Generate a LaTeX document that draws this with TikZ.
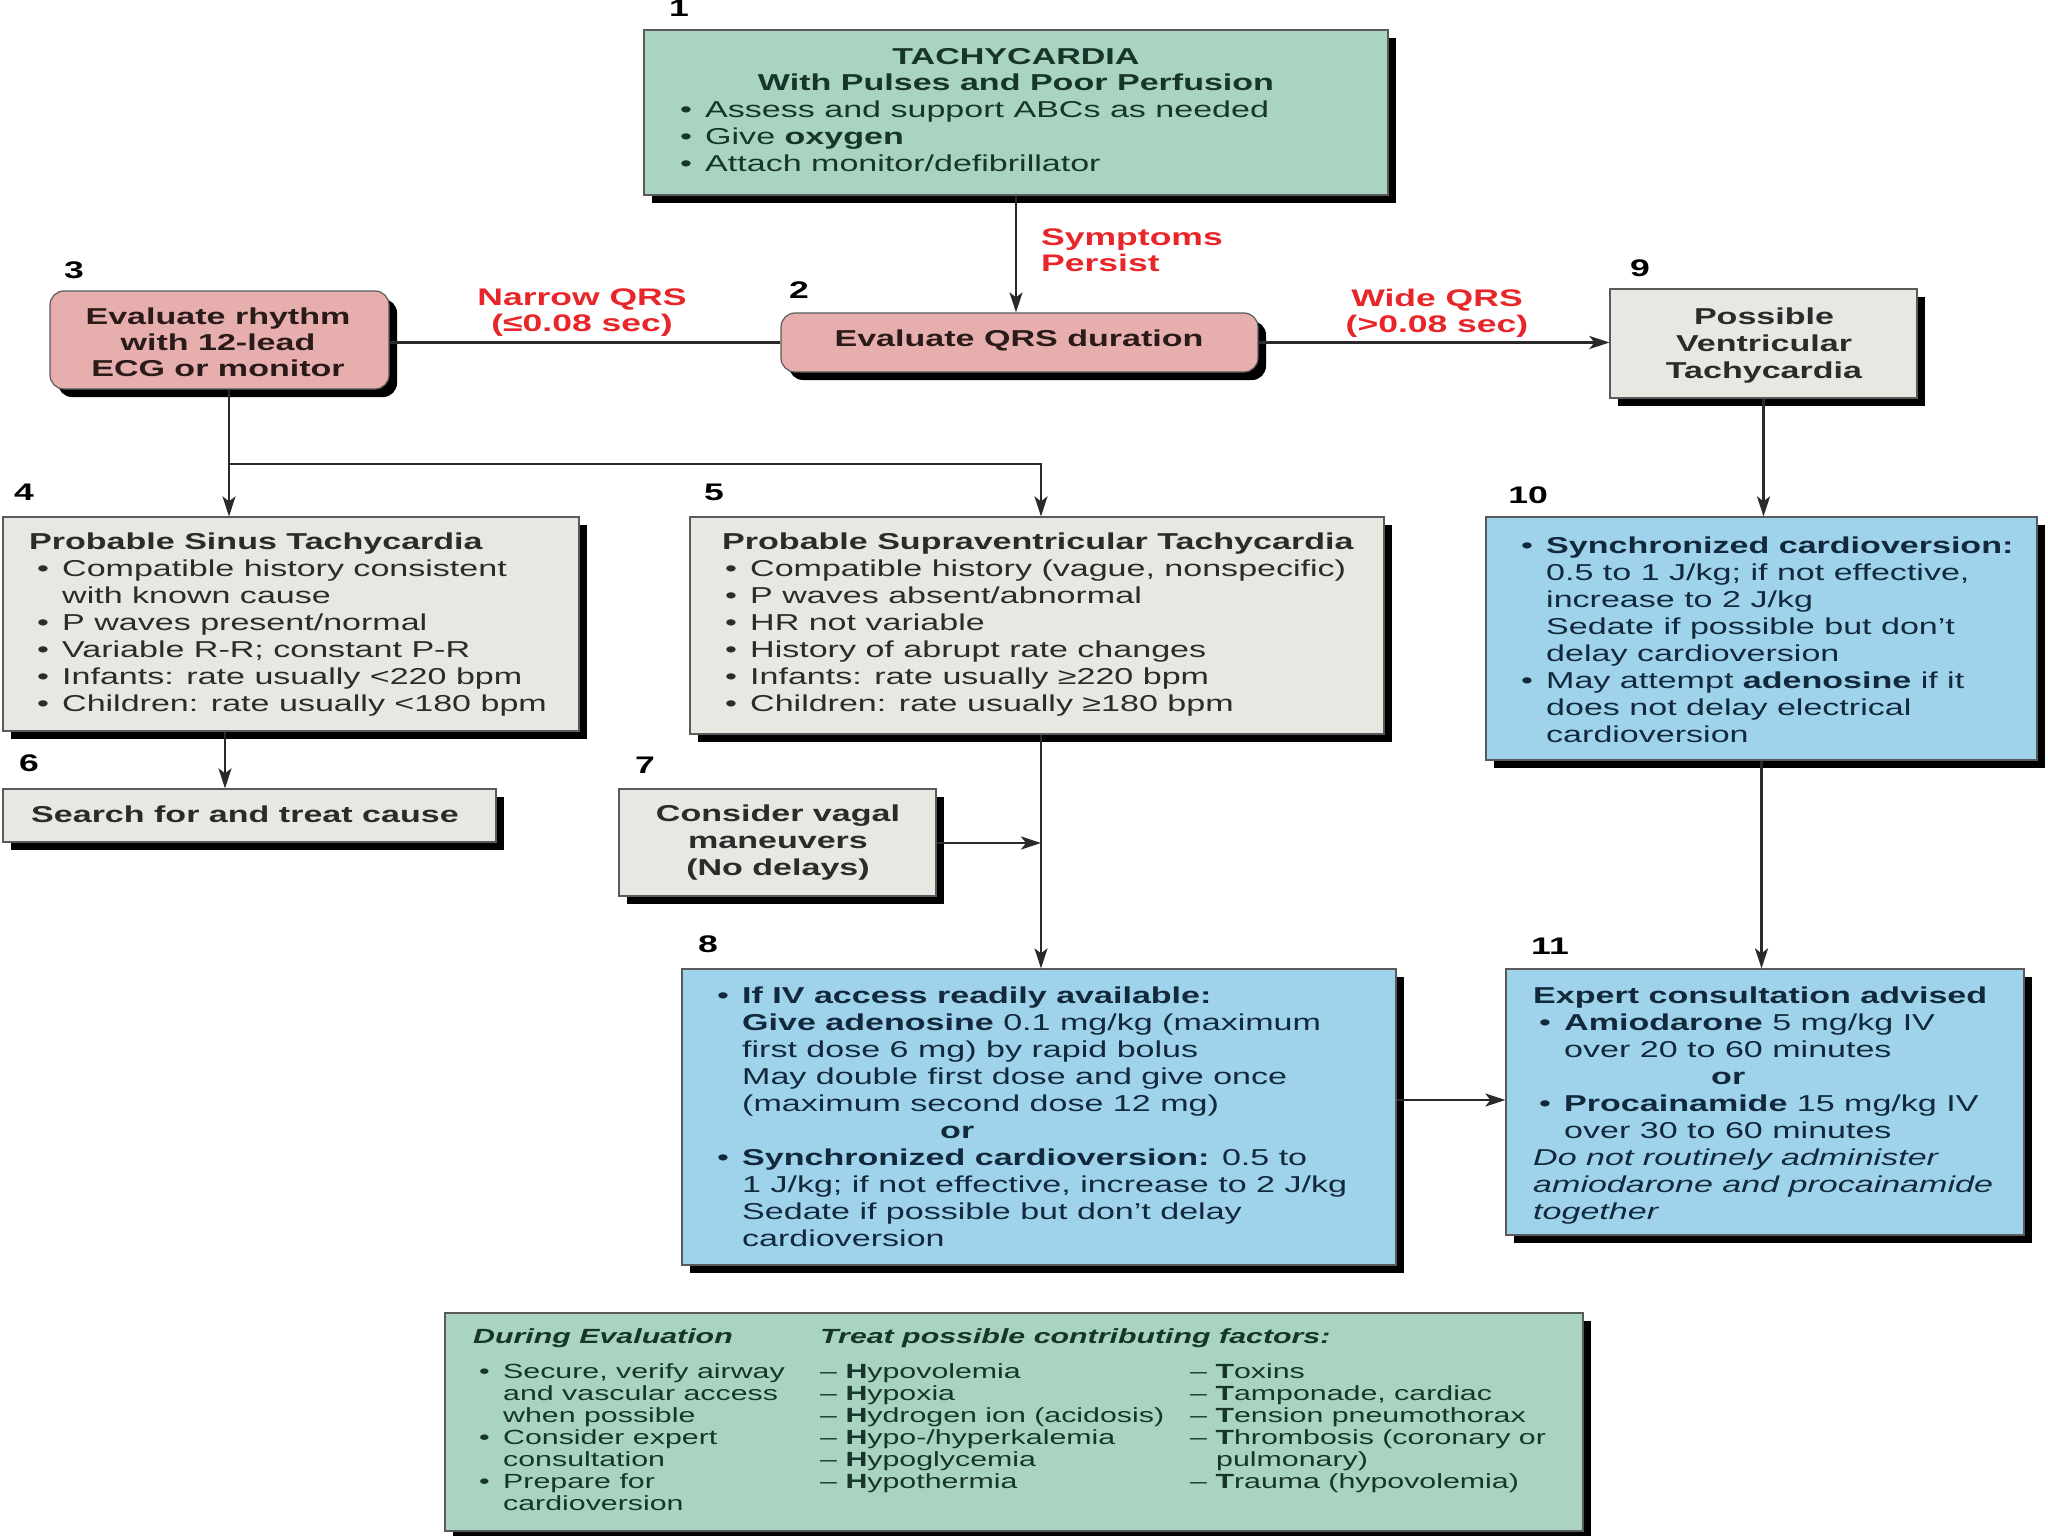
\documentclass[tikz,border=0pt]{standalone}
\usepackage{fontspec}
\setmainfont{Liberation Sans}[FakeStretch=1.48]
\usetikzlibrary{shadows,arrows.meta}
\definecolor{fgreen}{HTML}{A9D4BF}
\definecolor{fpink}{HTML}{E6AFAE}
\definecolor{fgray}{HTML}{E9E7E1}
\definecolor{fblue}{HTML}{9FD3EC}
\definecolor{bordc}{HTML}{5A5A5A}
\definecolor{linec}{HTML}{2A2A2A}
\definecolor{tgreen}{HTML}{17352B}
\definecolor{tgray}{HTML}{2B2B2B}
\definecolor{tblue}{HTML}{12293C}
\definecolor{tpink}{HTML}{2A1A1A}
\definecolor{redc}{HTML}{E8262A}
\newcommand{\bulx}{\makebox[25pt][l]{•}}
\newcommand{\indx}{\hspace*{25pt}}
\newcommand{\bulb}{\makebox[24pt][l]{•}}
\newcommand{\indb}{\hspace*{24pt}}
\begin{document}
\begin{tikzpicture}[x=1pt,y=-1pt,
  box/.style={draw=bordc, line width=1.2pt, inner sep=0pt,
    drop shadow={shadow xshift=8pt, shadow yshift=-8pt, fill=black, opacity=1}},
  greenbox/.style={box, fill=fgreen},
  pinkbox/.style={box, fill=fpink, rounded corners=14pt},
  graybox/.style={box, fill=fgray},
  bluebox/.style={box, fill=fblue},
  txt/.style={inner sep=0pt, font=\fontsize{23}{27}\selectfont, align=left},
  smalltxt/.style={inner sep=0pt, font=\fontsize{20.5}{22}\selectfont, align=left},
  num/.style={inner sep=0pt, font=\fontsize{24}{24}\selectfont\bfseries},
  lbl/.style={inner sep=0pt, font=\fontsize{24}{26}\selectfont\bfseries, text=redc, align=center},
  conn/.style={line width=2.6pt, draw=linec},
  arr/.style={conn, -{Stealth[length=20pt,width=13pt,inset=5pt]}}]
\useasboundingbox[fill=white] (0,0) rectangle (2048,1536);

% boxes
\node[greenbox, minimum width=744pt, minimum height=165pt] (b1) at (1016,112.5) {};
\node[pinkbox, minimum width=477pt, minimum height=59pt] (b2) at (1019.5,342.5) {};
\node[pinkbox, minimum width=339pt, minimum height=98pt] (b3) at (219.5,340) {};
\node[graybox, minimum width=307pt, minimum height=109pt] (b9) at (1763.5,343.5) {};
\node[graybox, minimum width=576pt, minimum height=214pt] (b4) at (291,624) {};
\node[graybox, minimum width=694pt, minimum height=217pt] (b5) at (1037,625.5) {};
\node[graybox, minimum width=493pt, minimum height=53pt] (b6) at (249.5,815.5) {};
\node[graybox, minimum width=317pt, minimum height=107pt] (b7) at (777.5,842.5) {};
\node[bluebox, minimum width=714pt, minimum height=296pt] (b8) at (1039,1117) {};
\node[bluebox, minimum width=551pt, minimum height=243pt] (b10) at (1761.5,638.5) {};
\node[bluebox, minimum width=518pt, minimum height=266pt] (b11) at (1765,1102) {};
\node[greenbox, minimum width=1138pt, minimum height=218pt] (b12) at (1014,1422) {};

% numbers
\node[num] (n1) at (679,8) {1};
\node[num] (n2) at (799,290) {2};
\node[num] (n3) at (74,270) {3};
\node[num] (n4) at (24,492) {4};
\node[num] (n5) at (714,492) {5};
\node[num] (n6) at (29,763) {6};
\node[num] (n7) at (645,765) {7};
\node[num] (n8) at (708,944) {8};
\node[num] (n9) at (1640,268) {9};
\node[num] (n10) at (1528,495) {10};
\node[num] (n11) at (1550,946) {11};

% texts
\node[txt, text=tgreen, align=center, anchor=north, font=\fontsize{23}{26}\selectfont\bfseries] (t1a) at (1016,48)
  {TACHYCARDIA\\With Pulses and Poor Perfusion};
\node[txt, text=tgreen, anchor=north west] (t1b) at (680,101)
  {\bulx Assess and support ABCs as needed\\
   \bulx Give \textbf{oxygen}\\
   \bulx Attach monitor/defibrillator};
\node[txt, text=tpink, anchor=base, font=\fontsize{23}{27}\selectfont\bfseries] (t2) at (1019,346) {Evaluate QRS duration};
\node[txt, text=tpink, align=center, anchor=north, font=\fontsize{23}{26}\selectfont\bfseries] (t3) at (218,308)
  {Evaluate rhythm\\with 12-lead\\ECG or monitor};
\node[txt, text=tgray, align=center, anchor=north, font=\fontsize{23}{27}\selectfont\bfseries] (t9) at (1764,308)
  {Possible\\Ventricular\\Tachycardia};
\node[txt, text=tgray, anchor=north west] (t4) at (29,533)
  {\textbf{Probable Sinus Tachycardia}\\
   \hspace*{8pt}\bulx Compatible history consistent\\
   \hspace*{8pt}\indx with known cause\\
   \hspace*{8pt}\bulx P waves present/normal\\
   \hspace*{8pt}\bulx Variable R-R; constant P-R\\
   \hspace*{8pt}\bulx Infants: rate usually <220 bpm\\
   \hspace*{8pt}\bulx Children: rate usually <180 bpm};
\node[txt, text=tgray, anchor=north west] (t5) at (722,533)
  {\textbf{Probable Supraventricular Tachycardia}\\
   \hspace*{3pt}\bulx Compatible history (vague, nonspecific)\\
   \hspace*{3pt}\bulx P waves absent/abnormal\\
   \hspace*{3pt}\bulx HR not variable\\
   \hspace*{3pt}\bulx History of abrupt rate changes\\
   \hspace*{3pt}\bulx Infants: rate usually ≥220 bpm\\
   \hspace*{3pt}\bulx Children: rate usually ≥180 bpm};
\node[txt, text=tgray, anchor=base west, font=\fontsize{23}{27}\selectfont\bfseries] (t6) at (31,822) {Search for and treat cause};
\node[txt, text=tgray, align=center, anchor=north, font=\fontsize{23}{27}\selectfont\bfseries] (t7) at (778,805)
  {Consider vagal\\maneuvers\\(No delays)};
\node[txt, text=tblue, anchor=north west] (t8) at (717,987)
  {\bulx\textbf{If IV access readily available:}\\
   \indx\textbf{Give adenosine} 0.1 mg/kg (maximum\\
   \indx first dose 6 mg) by rapid bolus\\
   \indx May double first dose and give once\\
   \indx (maximum second dose 12 mg)\\
   \hspace*{223pt}\textbf{or}\\
   \bulx\textbf{Synchronized cardioversion:} 0.5 to\\
   \indx 1 J/kg; if not effective, increase to 2 J/kg\\
   \indx Sedate if possible but don’t delay\\
   \indx cardioversion};
\node[txt, text=tblue, anchor=north west] (t10) at (1521,537)
  {\bulx\textbf{Synchronized cardioversion:}\\
   \indx 0.5 to 1 J/kg; if not effective,\\
   \indx increase to 2 J/kg\\
   \indx Sedate if possible but don’t\\
   \indx delay cardioversion\\
   \bulx May attempt \textbf{adenosine} if it\\
   \indx does not delay electrical\\
   \indx cardioversion};
\node[txt, text=tblue, anchor=north west] (t11) at (1533,987)
  {\textbf{Expert consultation advised}\\
   \hspace*{6pt}\bulx\textbf{Amiodarone} 5 mg/kg IV\\
   \hspace*{6pt}\indx over 20 to 60 minutes\\
   \hspace*{178pt}\textbf{or}\\
   \hspace*{6pt}\bulx\textbf{Procainamide} 15 mg/kg IV\\
   \hspace*{6pt}\indx over 30 to 60 minutes\\
   \textit{Do not routinely administer}\\
   \textit{amiodarone and procainamide}\\
   \textit{together}};
\node[smalltxt, text=tgreen, anchor=north west, font=\fontsize{20.5}{22}\selectfont\bfseries\itshape] (t12a) at (473,1328) {During Evaluation};
\node[smalltxt, text=tgreen, anchor=north west, font=\fontsize{20.5}{22}\selectfont\bfseries\itshape] (t12b) at (820,1328) {Treat possible contributing factors:};
\node[smalltxt, text=tgreen, anchor=north west] (t12c) at (479,1363)
  {\bulb Secure, verify airway\\
   \indb and vascular access\\
   \indb when possible\\
   \bulb Consider expert\\
   \indb consultation\\
   \bulb Prepare for\\
   \indb cardioversion};
\node[smalltxt, text=tgreen, anchor=north west] (t12d) at (820,1363)
  {– \textbf{H}ypovolemia\\
   – \textbf{H}ypoxia\\
   – \textbf{H}ydrogen ion (acidosis)\\
   – \textbf{H}ypo-/hyperkalemia\\
   – \textbf{H}ypoglycemia\\
   – \textbf{H}ypothermia};
\node[smalltxt, text=tgreen, anchor=north west] (t12e) at (1190,1363)
  {– \textbf{T}oxins\\
   – \textbf{T}amponade, cardiac\\
   – \textbf{T}ension pneumothorax\\
   – \textbf{T}hrombosis (coronary or\\
   \hspace*{26pt}pulmonary)\\
   – \textbf{T}rauma (hypovolemia)};

% red labels
\node[lbl, align=left, anchor=north west] (l1) at (1041,229) {Symptoms\\Persist};
\node[lbl] (l2) at (582,313) {Narrow QRS\\(≤0.08 sec)};
\node[lbl] (l3) at (1437,313) {Wide QRS\\(>0.08 sec)};

% junctions
\coordinate (j1) at (229,464);
\coordinate (j2) at (1041,464);
\coordinate (j3) at (225,760);
\coordinate (j4) at (1041,843);
\coordinate (j5) at (1450,1100);

% connectors
\draw[arr] (b1.south) -- (b1.south |- b2.north);
\draw[conn] (b2.west) -- (b2.west -| b3.east);
\draw[arr] (b2.east) -- (b2.east -| b9.west);
\draw[conn] (b3.south -| j1) -- (j1);
\draw[arr] (j1) -- (j1 |- b4.north);
\draw[arr] (j1) -- (j2) -- (j2 |- b5.north);
\draw[arr] (b4.south -| j3) -- (j3 |- b6.north);
\draw[arr] (b5.south -| j2) -- (j2 |- b8.north);
\draw[arr] (b7.east |- j4) -- (j4);
\draw[arr] (b9.south) -- (b9.south |- b10.north);
\draw[arr] (b10.south) -- (b10.south |- b11.north);
\draw[arr] (b8.east |- j5) -- (j5 -| b11.west);
\end{tikzpicture}
\end{document}
